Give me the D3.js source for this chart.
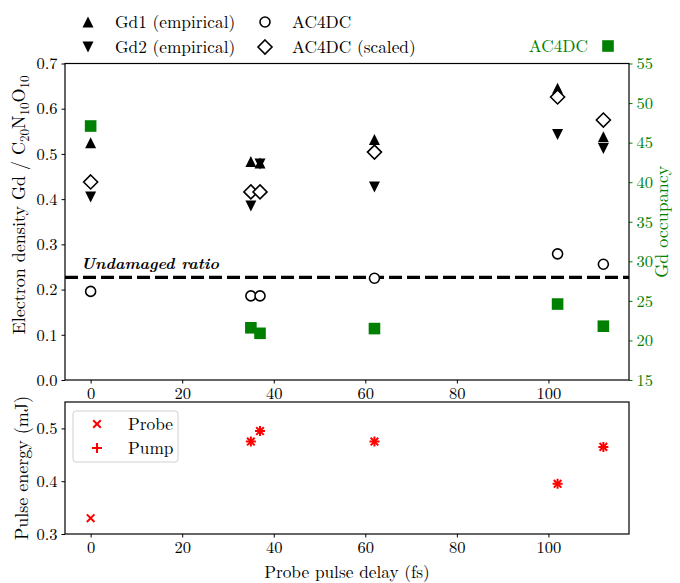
<!DOCTYPE html>
<html>
<head>
<meta charset="utf-8">
<script src="https://cdn.jsdelivr.net/npm/d3@7"></script>
<style>
  body { margin: 0; background: #fff; }
  svg text { font-family: "Latin Modern Roman", "CMU Serif", "Liberation Serif", "DejaVu Serif", serif; }
</style>
</head>
<body>
<svg id="chart" width="680" height="583"></svg>
<script>
// ---------------- data ----------------
const delays = [0, 35, 37, 62, 102, 112];
const gd1Empirical = [0.525, 0.483, 0.480, 0.532, 0.645, 0.538];
const gd2Empirical = [0.405, 0.385, 0.478, 0.427, 0.543, 0.512];
const ac4dc = [0.196, 0.186, 0.186, 0.225, 0.279, 0.256];
const ac4dcScaled = [0.438, 0.416, 0.416, 0.504, 0.626, 0.575];
const gdOccupancy = [47.1, 21.6, 20.9, 21.5, 24.6, 21.8];
const undamagedRatio = 0.227;

const probeDelays = [0, 35, 37, 62, 102, 112];
const probeEnergy = [0.330, 0.475, 0.495, 0.475, 0.395, 0.465];
const pumpDelays = [35, 37, 62, 102, 112];
const pumpEnergy = [0.475, 0.495, 0.475, 0.395, 0.465];

const xTicks = [0, 20, 40, 60, 80, 100];
const leftTicks = [0.0, 0.1, 0.2, 0.3, 0.4, 0.5, 0.6, 0.7];
const rightTicks = [15, 20, 25, 30, 35, 40, 45, 50, 55];
const energyTicks = [0.3, 0.4, 0.5];

// ---------------- layout ----------------
const svg = d3.select("#chart");
const L = 65, R = 629;
const top1 = 63.5, bot1 = 380;
const top2 = 402, bot2 = 534;
const FS = 16.5;     // tick labels
const FL = 17.3;     // legend / x label
const FY = 18;       // y labels
const GREEN = "#008000";

const x = d3.scaleLinear().domain([-5.6, 117.6]).range([L, R]);
const yL = d3.scaleLinear().domain([0, 0.7]).range([bot1, top1]);
const yR = d3.scaleLinear().domain([15, 55]).range([bot1, top1]);
const yE = d3.scaleLinear().domain([0.3, 0.55]).range([bot2, top2]);

function styleAxis(g, color) {
  g.select(".domain").remove();
  g.selectAll(".tick line").attr("stroke", color || "#000").attr("stroke-width", 1);
  g.selectAll(".tick text").attr("font-size", FS).attr("fill", color || "#000")
    .attr("font-family", '"Latin Modern Roman","CMU Serif","Liberation Serif",serif');
}

// ---------- top panel axes ----------
svg.append("g").attr("transform", `translate(0,${bot1})`)
  .call(d3.axisBottom(x).tickValues(xTicks).tickSize(3.5).tickPadding(4).tickFormat(d3.format("d")))
  .call(g => styleAxis(g));
svg.append("g").attr("transform", `translate(${L},0)`)
  .call(d3.axisLeft(yL).tickValues(leftTicks).tickSize(3.5).tickPadding(4).tickFormat(d3.format(".1f")))
  .call(g => styleAxis(g));
svg.append("g").attr("transform", `translate(${R},0)`)
  .call(d3.axisRight(yR).tickValues(rightTicks).tickSize(3.5).tickPadding(4).tickFormat(d3.format("d")))
  .call(g => styleAxis(g, GREEN));

svg.append("rect").attr("x", L).attr("y", top1).attr("width", R - L).attr("height", bot1 - top1)
  .attr("fill", "none").attr("stroke", "#000").attr("stroke-width", 1.2);

// undamaged ratio line
svg.append("line").attr("x1", L).attr("x2", R)
  .attr("y1", yL(undamagedRatio)).attr("y2", yL(undamagedRatio))
  .attr("stroke", "#000").attr("stroke-width", 3.3).attr("stroke-dasharray", "13,5");
svg.append("text").attr("x", 81).attr("y", yL(undamagedRatio) - 8)
  .attr("font-size", 16).attr("font-style", "italic").attr("font-weight", "bold")
  .text("Undamaged ratio");

// marker paths
const triUp = s => `M0,${-s}L${s},${s}L${-s},${s}Z`;
const triDown = s => `M0,${s}L${s},${-s}L${-s},${-s}Z`;
const diamond = s => `M0,${-s}L${s},0L0,${s}L${-s},0Z`;
const square = s => `M${-s},${-s}H${s}V${s}H${-s}Z`;
const xMark = s => `M${-s},${-s}L${s},${s}M${-s},${s}L${s},${-s}`;
const plusMark = s => `M${-s},0H${s}M0,${-s}V${s}`;

const plot = svg.append("g");
function pts(xs, ys) { return xs.map((d, i) => ({ x: d, y: ys[i] })); }

// green squares (right axis)
plot.selectAll(".occ").data(pts(delays, gdOccupancy)).join("path")
  .attr("d", square(5.8)).attr("fill", GREEN)
  .attr("transform", d => `translate(${x(d.x)},${yR(d.y)})`);
// Gd1
plot.selectAll(".gd1").data(pts(delays, gd1Empirical)).join("path")
  .attr("d", triUp(5.5)).attr("fill", "#000")
  .attr("transform", d => `translate(${x(d.x)},${yL(d.y)})`);
// Gd2
plot.selectAll(".gd2").data(pts(delays, gd2Empirical)).join("path")
  .attr("d", triDown(5.5)).attr("fill", "#000")
  .attr("transform", d => `translate(${x(d.x)},${yL(d.y)})`);
// AC4DC circles
plot.selectAll(".ac").data(pts(delays, ac4dc)).join("circle")
  .attr("r", 5).attr("fill", "#fff").attr("stroke", "#000").attr("stroke-width", 1.6)
  .attr("cx", d => x(d.x)).attr("cy", d => yL(d.y));
// AC4DC scaled diamonds
plot.selectAll(".acs").data(pts(delays, ac4dcScaled)).join("path")
  .attr("d", diamond(7)).attr("fill", "#fff").attr("stroke", "#000").attr("stroke-width", 1.6)
  .attr("transform", d => `translate(${x(d.x)},${yL(d.y)})`);

// axis labels top
const ylab = svg.append("text").attr("transform", `translate(25,205) rotate(-90)`)
  .attr("text-anchor", "middle").attr("font-size", FY);
ylab.append("tspan").text("Electron density Gd / C");
ylab.append("tspan").attr("font-size", 13).attr("dy", 4).text("20");
ylab.append("tspan").attr("dy", -4).text("N");
ylab.append("tspan").attr("font-size", 13).attr("dy", 4).text("10");
ylab.append("tspan").attr("dy", -4).text("O");
ylab.append("tspan").attr("font-size", 13).attr("dy", 4).text("10");

svg.append("text").attr("transform", `translate(668,${(top1 + bot1) / 2}) rotate(-90)`)
  .attr("text-anchor", "middle").attr("font-size", FY).attr("fill", GREEN).text("Gd occupancy");

// top legend
const lg = svg.append("g");
lg.append("path").attr("d", triUp(5.5)).attr("transform", "translate(88,22)");
lg.append("path").attr("d", triDown(5.5)).attr("transform", "translate(88,47)");
lg.append("circle").attr("cx", 265).attr("cy", 22).attr("r", 5).attr("fill", "#fff").attr("stroke", "#000").attr("stroke-width", 1.6);
lg.append("path").attr("d", diamond(7)).attr("transform", "translate(265,47)").attr("fill", "#fff").attr("stroke", "#000").attr("stroke-width", 1.6);
lg.append("text").attr("x", 115).attr("y", 28).attr("font-size", FL).text("Gd1 (empirical)");
lg.append("text").attr("x", 115).attr("y", 53).attr("font-size", FL).text("Gd2 (empirical)");
lg.append("text").attr("x", 292).attr("y", 28).attr("font-size", FL).text("AC4DC");
lg.append("text").attr("x", 292).attr("y", 53).attr("font-size", FL).text("AC4DC (scaled)");
lg.append("text").attr("x", 588).attr("y", 52).attr("text-anchor", "end").attr("font-size", FL).attr("fill", GREEN).text("AC4DC");
lg.append("path").attr("d", square(5.8)).attr("fill", GREEN).attr("transform", "translate(608,46)");

// ---------- bottom panel ----------
svg.append("g").attr("transform", `translate(0,${bot2})`)
  .call(d3.axisBottom(x).tickValues(xTicks).tickSize(3.5).tickPadding(4).tickFormat(d3.format("d")))
  .call(g => styleAxis(g));
svg.append("g").attr("transform", `translate(${L},0)`)
  .call(d3.axisLeft(yE).tickValues(energyTicks).tickSize(3.5).tickPadding(4).tickFormat(d3.format(".1f")))
  .call(g => styleAxis(g));
svg.append("rect").attr("x", L).attr("y", top2).attr("width", R - L).attr("height", bot2 - top2)
  .attr("fill", "none").attr("stroke", "#000").attr("stroke-width", 1.2);

const RED = "#ff0000";
svg.append("g").selectAll("path").data(pts(probeDelays, probeEnergy)).join("path")
  .attr("d", xMark(3.8)).attr("stroke", RED).attr("stroke-width", 2).attr("fill", "none")
  .attr("transform", d => `translate(${x(d.x)},${yE(d.y)})`);
svg.append("g").selectAll("path").data(pts(pumpDelays, pumpEnergy)).join("path")
  .attr("d", plusMark(5)).attr("stroke", RED).attr("stroke-width", 2).attr("fill", "none")
  .attr("transform", d => `translate(${x(d.x)},${yE(d.y)})`);

// bottom legend
const bl = svg.append("g");
bl.append("rect").attr("x", 73).attr("y", 411).attr("width", 105).attr("height", 51).attr("rx", 3)
  .attr("fill", "#fff").attr("fill-opacity", 0.8).attr("stroke", "#d0d0d0").attr("stroke-width", 1);
bl.append("path").attr("d", xMark(3.8)).attr("stroke", RED).attr("stroke-width", 2).attr("transform", "translate(97,424)");
bl.append("path").attr("d", plusMark(5)).attr("stroke", RED).attr("stroke-width", 2).attr("transform", "translate(97,448)");
bl.append("text").attr("x", 128).attr("y", 430).attr("font-size", FL).text("Probe");
bl.append("text").attr("x", 128).attr("y", 454).attr("font-size", FL).text("Pump");

svg.append("text").attr("transform", `translate(28,${(top2 + bot2) / 2}) rotate(-90)`)
  .attr("text-anchor", "middle").attr("font-size", FY).text("Pulse energy (mJ)");
svg.append("text").attr("x", (L + R) / 2).attr("y", 578).attr("text-anchor", "middle")
  .attr("font-size", FL).text("Probe pulse delay (fs)");
</script>
</body>
</html>
